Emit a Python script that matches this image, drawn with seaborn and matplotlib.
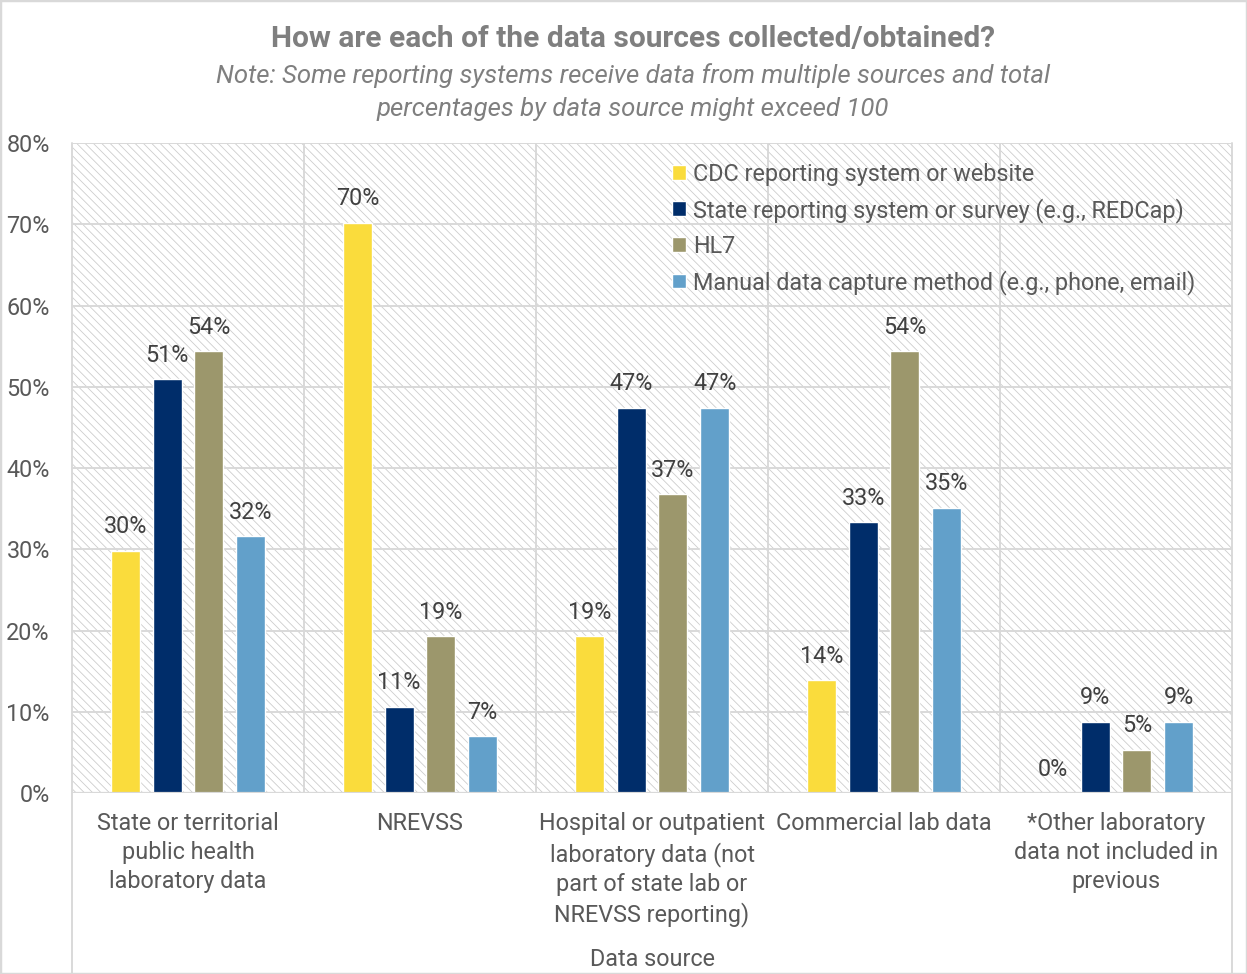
import matplotlib
matplotlib.use("Agg")
import matplotlib.pyplot as plt
import matplotlib.patches as mpatches
from matplotlib.lines import Line2D
from matplotlib.ticker import FuncFormatter
import numpy as np
import pandas as pd
import seaborn as sns

# ---- data -------------------------------------------------------------
sources = [
    "State or territorial\npublic health\nlaboratory data",
    "NREVSS",
    "Hospital or outpatient\nlaboratory data (not\npart of state lab or\nNREVSS reporting)",
    "Commercial lab data",
    "*Other laboratory\ndata not included in\nprevious",
]
methods = [
    "CDC reporting system or website",
    "State reporting system or survey (e.g., REDCap)",
    "HL7",
    "Manual data capture method (e.g., phone, email)",
]
cdc_site = [29.8, 70.2, 19.3, 13.9, 0.0]
state_system = [50.9, 10.6, 47.4, 33.3, 8.8]
hl7 = [54.4, 19.3, 36.8, 54.4, 5.3]
manual_capture = [31.6, 7.0, 47.4, 35.1, 8.8]

palette = ["#FADC3C", "#002D6A", "#9C976C", "#62A0CA"]

df = pd.DataFrame({
    "source": sources * 4,
    "method": np.repeat(methods, len(sources)),
    "pct": cdc_site + state_system + hl7 + manual_capture,
})

# ---- styling ----------------------------------------------------------
sns.set_theme(style="white")
plt.rcParams["font.family"] = ["Roboto", "DejaVu Sans"]
plt.rcParams["hatch.linewidth"] = 0.6
text_col = "#595959"
grid_col = "#D9D9D9"
fs = 16.8

W, H = 1247, 974
fig = plt.figure(figsize=(W / 100, H / 100), dpi=100)
ax = fig.add_axes([72 / W, 181 / H, 1160 / W, 650 / H])

# hatched plot-area background
ax.add_patch(mpatches.Rectangle((0, 0), 1, 1, transform=ax.transAxes,
                                facecolor="white", edgecolor="#CDCDCD",
                                linewidth=0, hatch="\\\\\\\\", zorder=0))

sns.barplot(data=df, x="source", y="pct", hue="method", hue_order=methods,
            order=sources, palette=palette, width=0.72, gap=0.3,
            saturation=1, ax=ax, zorder=3, legend=True)

ax.set_ylim(0, 80)
ax.set_xlim(-0.5, len(sources) - 0.5)
ax.set_yticks(np.arange(0, 81, 10))
ax.yaxis.set_major_formatter(FuncFormatter(lambda v, p: f"{v:.0f}%"))

# grid: horizontal at every 10%, vertical between categories
for yv in np.arange(10, 81, 10):
    ax.axhline(yv, color=grid_col, lw=1.4, zorder=1)
for xv in np.arange(0.5, len(sources) - 0.5, 1):
    ax.axvline(xv, color=grid_col, lw=1.4, zorder=1)
ax.axhline(0, color=grid_col, lw=1.6, zorder=4)

for s in ax.spines.values():
    s.set_visible(False)

# outer frame of the chart box reaching down past the category labels
for xf in (72 / W, 1232 / W):
    fig.add_artist(Line2D([xf, xf], [0, 831 / H], transform=fig.transFigure,
                          color=grid_col, lw=1.4))
fig.add_artist(mpatches.Rectangle((0, 0), 1, 1, transform=fig.transFigure,
                                  fill=False, edgecolor=grid_col, lw=2.5))

ax.tick_params(axis="y", length=0, pad=16, labelsize=fs, labelcolor=text_col)
ax.tick_params(axis="x", length=0, pad=14, labelsize=fs, labelcolor=text_col)
for lbl in ax.get_xticklabels():
    lbl.set_linespacing(1.33)

ax.set_xlabel("Data source", fontsize=fs, color=text_col, labelpad=15)
ax.set_ylabel("")

# value labels
for cont in ax.containers:
    ax.bar_label(cont, labels=[f"{b.get_height():.0f}%" for b in cont],
                 padding=9, fontsize=fs, color="#404040")

# legend
handles, labels = ax.get_legend_handles_labels()
ax.legend(handles, labels, loc="upper left", bbox_to_anchor=(0.517, 0.97),
          frameon=False, fontsize=fs, labelcolor=text_col,
          handlelength=0.6, handleheight=0.6, handletextpad=0.3,
          labelspacing=0.52, borderpad=0, borderaxespad=0)

# titles
fig.text(633 / W, 1 - 39 / H, "How are each of the data sources collected/obtained?",
         ha="center", va="center", fontsize=21.5, fontweight="bold", color="#7F7F7F")
fig.text(633 / W, 1 - 92 / H,
         "Note: Some reporting systems receive data from multiple sources and total\n"
         "percentages by data source might exceed 100",
         ha="center", va="center", fontsize=18.5, style="italic", color="#7F7F7F",
         linespacing=1.45)

fig.savefig("out.png", dpi=100)
